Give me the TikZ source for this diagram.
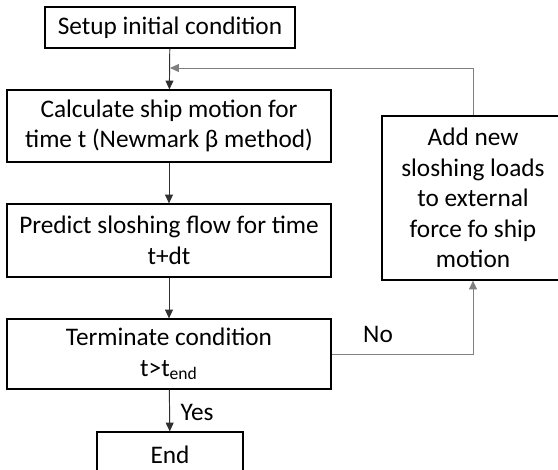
\documentclass[tikz,border=0pt]{standalone}
\usepackage{fontspec}
\setmainfont{Carlito}
\usetikzlibrary{arrows.meta,positioning}
\definecolor{flowLine}{HTML}{303030}
\definecolor{loopLine}{HTML}{7F7F7F}

\begin{document}
\begin{tikzpicture}[x=0.02cm, y=-0.02cm,
  box/.style={draw, line width=0.7pt, align=center, inner sep=0pt,
    font=\fontsize{14.4}{17.4}\selectfont},
  lbl/.style={inner sep=0pt, font=\fontsize{14.4}{17.4}\selectfont},
  flow/.style={draw=flowLine, line width=0.55pt, -{Triangle[length=5pt,width=4.5pt]}},
  loop/.style={draw=loopLine, line width=0.55pt, -{Triangle[length=5pt,width=4.5pt]}}]
  % Page frame (boxes at the bottom and right run past it)
  \clip (0,0) rectangle (558,470);
  % Main column of steps
  \node[box, minimum width=5cm, minimum height=0.82cm] (setup) at (170,27.5) {Setup initial condition};
  \node[box, minimum width=6.48cm, minimum height=1.44cm] (calc) at (169,126)
    {Calculate ship motion for\\time t (Newmark β method)};
  \node[box, minimum width=6.48cm, minimum height=1.46cm] (predict) at (169,240.5)
    {Predict sloshing flow for time\\t+dt};
  \node[box, minimum width=6.48cm, minimum height=1.4cm] (term) at (169,354)
    {Terminate condition\\t>t\textsubscript{end}};
  \node[box, minimum width=2.92cm, minimum height=0.92cm] (end) at (170,455) {End};
  % Loop box on the right
  \node[box, minimum width=3.64cm, minimum height=3.28cm] (loads) at (473,198)
    {Add new\\sloshing loads\\to external\\force fo ship\\motion};
  \coordinate (merge) at (170,68);
  % Labels on the branches
  \node[lbl] (yes) at (197,412) {Yes};
  \node[lbl] (no) at (378,334) {No};
  % Connectors
  \draw[flow] (setup) -- (calc);
  \draw[flow] (calc) -- (predict);
  \draw[flow] (predict) -- (term);
  \draw[flow] (term) -- (end);
  \draw[loop] (term.east) -| (loads.south);
  \draw[loop] (loads.north) |- (merge);
\end{tikzpicture}
\end{document}
